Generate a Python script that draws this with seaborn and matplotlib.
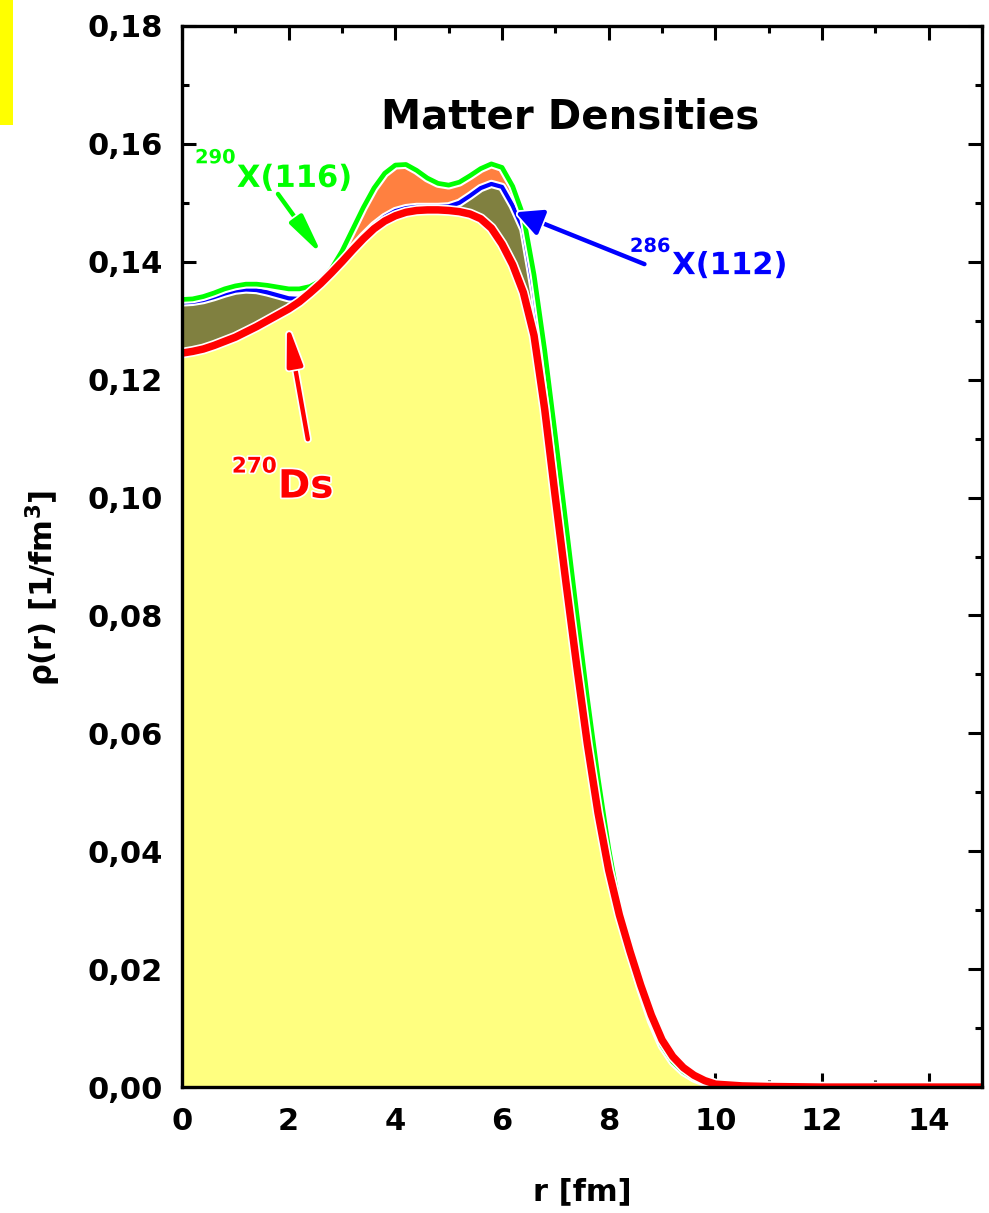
import matplotlib
matplotlib.use("Agg")
import matplotlib.pyplot as plt
import matplotlib.patheffects as pe
from matplotlib.patches import Rectangle
from matplotlib.ticker import MultipleLocator, FuncFormatter
import seaborn as sns
import pandas as pd

# Radial grid [fm]
r = [0.0, 0.2, 0.4, 0.6, 0.8, 1.0, 1.2, 1.4, 1.6, 1.8,
     2.0, 2.2, 2.4, 2.6, 2.8, 3.0, 3.2, 3.4, 3.6, 3.8,
     4.0, 4.2, 4.4, 4.6, 4.8, 5.0, 5.2, 5.4, 5.6, 5.8,
     6.0, 6.2, 6.4, 6.6, 6.8, 7.0, 7.2, 7.4, 7.6, 7.8,
     8.0, 8.2, 8.4, 8.6, 8.8, 9.0, 9.2, 9.4, 9.6, 9.8,
     10.0, 10.5, 11.0, 12.0, 13.0, 14.0, 15.0]

# Matter density of 270Ds [1/fm^3]
rho_ds270 = [0.1245, 0.1248, 0.1252, 0.1258, 0.1265, 0.1272, 0.1281, 0.1290, 0.1300, 0.1310,
             0.1320, 0.1332, 0.1347, 0.1363, 0.1381, 0.1400, 0.1420, 0.1439, 0.1456, 0.1469,
             0.1478, 0.1484, 0.1487, 0.1488, 0.1488, 0.1487, 0.1485, 0.1481, 0.1473, 0.1457,
             0.1430, 0.1395, 0.1348, 0.1275, 0.1150, 0.1000, 0.0855, 0.0715, 0.0582, 0.0465,
             0.0368, 0.0292, 0.0230, 0.0173, 0.0122, 0.0080, 0.0052, 0.0033, 0.0020, 0.0011,
             0.0005, 0.0002, 0.0001, 0.0, 0.0, 0.0, 0.0]

# Matter density of 286X(112)
rho_x286 = [0.1331, 0.1332, 0.1335, 0.1340, 0.1346, 0.1351, 0.1353, 0.1352, 0.1348, 0.1343,
            0.1338, 0.1337, 0.1350, 0.1366, 0.1384, 0.1404, 0.1424, 0.1444, 0.1462, 0.1476,
            0.1486, 0.1491, 0.1493, 0.1493, 0.1493, 0.1494, 0.1500, 0.1512, 0.1525, 0.1532,
            0.1527, 0.1495, 0.1455, 0.1350, 0.1215, 0.1068, 0.0918, 0.0772, 0.0633, 0.0505,
            0.0392, 0.0300, 0.0230, 0.0168, 0.0115, 0.0073, 0.0045, 0.0027, 0.0016, 0.0009,
            0.0004, 0.0002, 0.0001, 0.0, 0.0, 0.0, 0.0]

# Matter density of 290X(116)
rho_x290 = [0.1336, 0.1337, 0.1341, 0.1347, 0.1354, 0.1359, 0.1362, 0.1362, 0.1360, 0.1357,
            0.1354, 0.1354, 0.1358, 0.1368, 0.1388, 0.1418, 0.1455, 0.1492, 0.1525, 0.1550,
            0.1564, 0.1565, 0.1555, 0.1542, 0.1533, 0.1530, 0.1535, 0.1546, 0.1558, 0.1566,
            0.1560, 0.1528, 0.1478, 0.1378, 0.1250, 0.1105, 0.0955, 0.0805, 0.0660, 0.0525,
            0.0405, 0.0305, 0.0230, 0.0166, 0.0112, 0.0070, 0.0043, 0.0026, 0.0015, 0.0008,
            0.0003, 0.0001, 0.0, 0.0, 0.0, 0.0, 0.0]

x_ticks = [0, 2, 4, 6, 8, 10, 12, 14]
y_ticks = [0.00, 0.02, 0.04, 0.06, 0.08, 0.10, 0.12, 0.14, 0.16, 0.18]

df = pd.DataFrame({"r": r, "ds270": rho_ds270, "x286": rho_x286, "x290": rho_x290})

sns.set_style("white")
plt.rcParams["font.family"] = ["DejaVu Sans"]
plt.rcParams["font.weight"] = "bold"
plt.rcParams["mathtext.fontset"] = "dejavusans"
plt.rcParams["mathtext.default"] = "bf"
plt.rcParams["text.color"] = "black"
plt.rcParams["axes.labelcolor"] = "black"
plt.rcParams["xtick.color"] = "black"
plt.rcParams["ytick.color"] = "black"

RED = "#ff0000"
BLUE = "#0000ff"
GREEN = "#00ff00"
YELLOW_FILL = "#ffff80"
OLIVE = "#808040"
ORANGE = "#ff8040"

fig = plt.figure(figsize=(9.89, 12.13), dpi=100)
fig.patch.set_facecolor("white")
ax = fig.add_axes([0.184, 0.1038, 0.809, 0.8748])
ax.set_facecolor("white")

rr = df["r"].to_numpy()
red = df["ds270"].to_numpy()
blue = df["x286"].to_numpy()
green = df["x290"].to_numpy()

# Filled areas
ax.fill_between(rr, 0, red, color=YELLOW_FILL, lw=0, zorder=1)
ax.fill_between(rr, red, blue, where=blue > red, interpolate=True,
                color=OLIVE, lw=0, zorder=2)
orange_zone = (rr >= 3.2) & (rr <= 6.4)
ax.fill_between(rr, blue, green, where=orange_zone & (green > blue), interpolate=True,
                color=ORANGE, lw=0, zorder=2)

# Density curves with a white outline
def halo(width, extra=3.0):
    return [pe.Stroke(linewidth=width + extra, foreground="white"), pe.Normal()]

sns.lineplot(data=df, x="r", y="x286", color=BLUE, lw=3.0, ax=ax, zorder=4)
ax.lines[-1].set_path_effects(halo(3.0))
sns.lineplot(data=df, x="r", y="x290", color=GREEN, lw=3.4, ax=ax, zorder=5)
ax.lines[-1].set_path_effects(halo(3.4))
sns.lineplot(data=df, x="r", y="ds270", color=RED, lw=5.4, ax=ax, zorder=6)
ax.lines[-1].set_path_effects(halo(5.4, 2.4))

ax.set_xlim(0, 15)
ax.set_ylim(0, 0.18)
ax.set_xticks(x_ticks)
ax.set_yticks(y_ticks)
ax.xaxis.set_minor_locator(MultipleLocator(1))
ax.yaxis.set_minor_locator(MultipleLocator(0.01))
ax.yaxis.set_major_formatter(FuncFormatter(lambda v, _: f"{v:.2f}".replace(".", ",")))
ax.xaxis.set_major_formatter(FuncFormatter(lambda v, _: f"{v:.0f}"))

ax.tick_params(which="both", direction="in", top=True, right=True, bottom=True, left=True,
               width=2.2, color="black")
ax.tick_params(which="major", length=10)
ax.tick_params(which="minor", length=5)
ax.tick_params(axis="y", which="major", labelsize=22, pad=14, labelcolor="black")
ax.tick_params(axis="x", which="major", labelsize=22, pad=14, labelcolor="black")
for lab in ax.get_xticklabels() + ax.get_yticklabels():
    lab.set_fontweight("bold")

for s in ax.spines.values():
    s.set_visible(True)
    s.set_linewidth(2.4)
    s.set_color("black")
    s.set_zorder(10)

ax.set_xlabel("r [fm]", fontsize=22, fontweight="bold", color="black")
ax.set_ylabel(r"ρ(r) [1/fm$^{3}$]", fontsize=22, fontweight="bold", color="black")
ax.xaxis.set_label_coords(0.5, -0.099)
ax.xaxis.label.set_va("center")
ax.yaxis.set_label_coords(-0.174, 0.47)
ax.yaxis.label.set_va("center")

# Title inside the frame
ax.text(7.27, 0.1644, "Matter Densities", fontsize=29, fontweight="bold",
        color="black", ha="center", va="center", zorder=8)

txt_halo = [pe.Stroke(linewidth=2.5, foreground="white"), pe.Normal()]

def nucleus_label(x, y, mass, name, color, size, sup_size, rise):
    # name sits on the baseline at (x, y); mass number raised to its left
    ax.text(x, y, name, fontsize=size, fontweight="bold", color=color,
            ha="left", va="baseline", zorder=8, path_effects=txt_halo)
    ax.annotate(mass, xy=(x, y), xycoords="data", xytext=(-1, rise),
                textcoords="offset points", fontsize=sup_size, fontweight="bold",
                color=color, ha="right", va="baseline", zorder=8,
                path_effects=txt_halo)

nucleus_label(1.03, 0.1527, "290", "X(116)", GREEN, 22, 14, 17)
nucleus_label(9.19, 0.1379, "286", "X(112)", BLUE, 22, 14, 16)
nucleus_label(1.80, 0.1000, "270", "Ds", RED, 28, 15.5, 18)

def arrow(tail, tip, color, hl, hw, lw):
    a = ax.annotate("", xy=tip, xytext=tail, xycoords="data", textcoords="data",
                    arrowprops=dict(arrowstyle=f"-|>,head_length={hl},head_width={hw}",
                                    color=color, lw=lw, shrinkA=0, shrinkB=0),
                    zorder=9)
    a.arrow_patch.set_path_effects([pe.Stroke(linewidth=lw + 2.5, foreground="white"),
                                    pe.Normal()])

arrow((1.80, 0.1515), (2.64, 0.1410), GREEN, 2.4, 0.45, 3.2)
arrow((8.67, 0.1396), (6.25, 0.1484), BLUE, 1.6, 0.8, 3.2)
arrow((2.36, 0.1099), (1.97, 0.1297), RED, 2.4, 0.45, 3.2)

# Yellow marker strip in the top-left corner
fig.patches.append(Rectangle((0, 1 - 125 / 1213), 13 / 989, 125 / 1213,
                             transform=fig.transFigure, facecolor="#ffff00",
                             edgecolor="none", zorder=0))

fig.savefig("out.png", dpi=100, facecolor="white")
